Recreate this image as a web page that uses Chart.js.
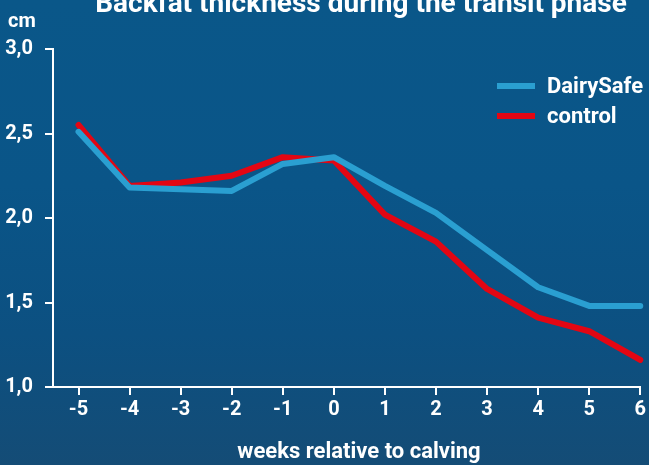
<!DOCTYPE html>
<html>
<head>
<meta charset="utf-8">
<script src="https://cdn.jsdelivr.net/npm/chart.js@4"></script>
<style>
html,body{margin:0;padding:0;width:649px;height:465px;overflow:hidden;}
body{background:linear-gradient(180deg,#0a5789 0%,#0a5588 40%,#0c5081 72%,#144c76 100%);}
#wrap{position:absolute;left:0;top:0;width:649px;height:465px;}
</style>
</head>
<body>
<div id="wrap"><canvas id="c" width="649" height="465"></canvas></div>
<script>
const chartTitle = "Backfat thickness during the transit phase";
const unitLabel = "cm";
const xAxisTitle = "weeks relative to calving";
const weeks = [-5, -4, -3, -2, -1, 0, 1, 2, 3, 4, 5, 6];
const dairySafe = [2.51, 2.18, 2.17, 2.16, 2.32, 2.36, 2.19, 2.03, 1.81, 1.59, 1.48, 1.48];
const control = [2.55, 2.19, 2.21, 2.25, 2.36, 2.34, 2.02, 1.86, 1.58, 1.41, 1.33, 1.16];
const yTicks = [1.0, 1.5, 2.0, 2.5, 3.0];
const seriesNames = ["DairySafe", "control"];
const seriesColors = ["#2a9fd1", "#e30613"];

const FONT = "Roboto, 'Noto Sans', sans-serif";

const overlay = {
  id: 'overlay',
  afterDraw(chart) {
    const ctx = chart.ctx;
    ctx.save();
    ctx.fillStyle = '#ffffff';
    ctx.textBaseline = 'alphabetic';
    ctx.textAlign = 'center';
    ctx.font = "bold 28px " + FONT;
    ctx.fillText(chartTitle, 361, 12);
    ctx.font = "bold 22px " + FONT;
    ctx.fillText(xAxisTitle, 359, 458);
    ctx.textAlign = 'left';
    ctx.font = "bold 20px " + FONT;
    ctx.fillText(unitLabel, 8, 27);
    // legend
    const lx = 497, ly = 86;
    chart.data.datasets.forEach((ds, i) => {
      const y = ly + i * 30;
      ctx.strokeStyle = ds.borderColor;
      ctx.lineWidth = 6;
      ctx.lineCap = 'butt';
      ctx.beginPath();
      ctx.moveTo(lx, y);
      ctx.lineTo(lx + 38, y);
      ctx.stroke();
      ctx.fillStyle = '#ffffff';
      ctx.font = "bold 22px " + FONT;
      ctx.textBaseline = 'middle';
      ctx.fillText(ds.label, lx + 50, y + 1);
    });
    ctx.restore();
  }
};

new Chart(document.getElementById('c'), {
  type: 'line',
  data: {
    datasets: [
      { label: seriesNames[0], data: weeks.map((w, i) => ({x: w, y: dairySafe[i]})), borderColor: seriesColors[0], backgroundColor: seriesColors[0] },
      { label: seriesNames[1], data: weeks.map((w, i) => ({x: w, y: control[i]})), borderColor: seriesColors[1], backgroundColor: seriesColors[1] }
    ]
  },
  options: {
    responsive: false,
    animation: false,
    devicePixelRatio: 1,
    layout: { padding: { top: 49, right: 7, left: 0, bottom: 0 } },
    elements: {
      line: { borderWidth: 6, tension: 0, borderCapStyle: 'round', borderJoinStyle: 'round' },
      point: { radius: 0, hoverRadius: 0 }
    },
    datasets: { line: { clip: false } },
    plugins: { legend: { display: false }, title: { display: false }, tooltip: { enabled: false } },
    scales: {
      x: {
        type: 'linear',
        min: -5.5,
        max: 6,
        afterBuildTicks: (s) => { s.ticks = weeks.map(v => ({ value: v })); },
        afterFit: (s) => { s.height = 78; },
        border: { display: true, color: '#ffffff', width: 2 },
        grid: { display: true, drawOnChartArea: false, drawTicks: true, tickLength: 8, color: '#ffffff', lineWidth: 2 },
        ticks: { color: '#ffffff', font: { family: FONT, size: 20, weight: 'bold' }, padding: 3, autoSkip: false, maxRotation: 0,
                 callback: (v) => String(v) },
        title: { display: false }
      },
      y: {
        min: 1.0,
        max: 3.0,
        afterBuildTicks: (s) => { s.ticks = yTicks.map(v => ({ value: v })); },
        afterFit: (s) => { s.width = 53; },
        border: { display: true, color: '#ffffff', width: 2 },
        grid: { display: true, drawOnChartArea: false, drawTicks: true, tickLength: 8, color: '#ffffff', lineWidth: 2 },
        ticks: { color: '#ffffff', font: { family: FONT, size: 20, weight: 'bold' }, padding: 12,
                 callback: (v) => Number(v).toFixed(1).replace('.', ',') }
      }
    }
  },
  plugins: [overlay]
});
</script>
</body>
</html>
